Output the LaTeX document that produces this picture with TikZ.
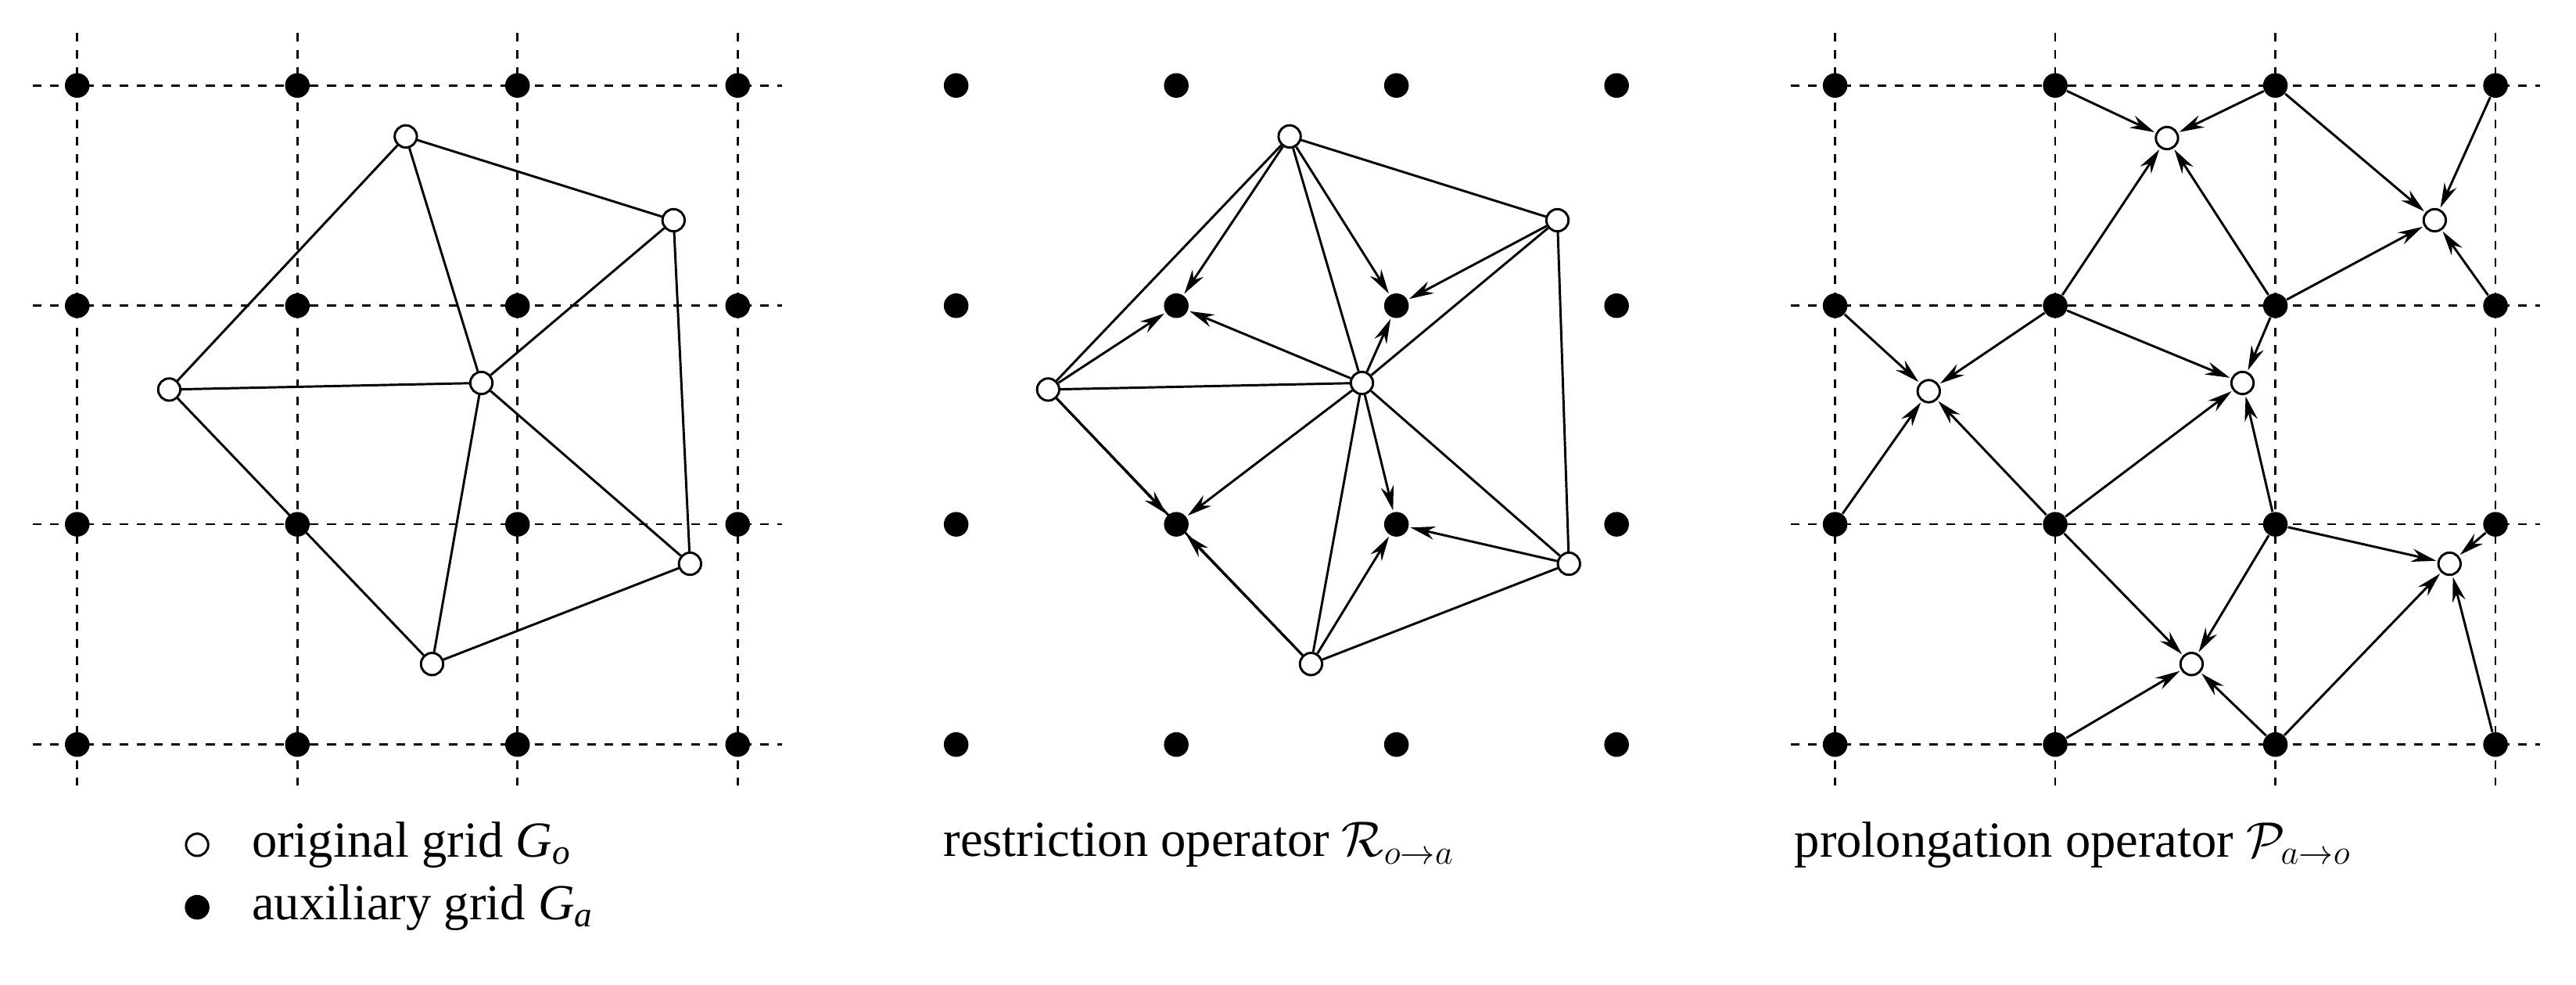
\documentclass[tikz,border=0pt]{standalone}
\usepackage{fontspec}
\setmainfont{Liberation Serif}
\usetikzlibrary{arrows.meta}
\begin{document}
\begin{tikzpicture}[x=0.02cm,y=-0.02cm,
  aux/.style={circle,fill=black,inner sep=0pt,minimum size=0.3cm},
  orig/.style={circle,draw=black,fill=white,line width=0.8pt,inner sep=0pt,minimum size=0.27cm},
  gridline/.style={dashed,line width=0.7pt},
  mesh/.style={line width=0.8pt},
  arr/.style={line width=0.8pt,-{Stealth[length=0.3cm,width=0.16cm]},shorten >=0.5pt},
  lbl/.style={font=\fontsize{17.5}{20}\selectfont,inner sep=0pt}]
\useasboundingbox (0,0) rectangle (1568,599);
% ---------- panel 1
\foreach \x in {47,181,315,449} \draw[gridline] (\x,20) -- (\x,478);
\foreach \y in {52,186,319,453} \draw[gridline] (20,\y) -- (476,\y);
\foreach \x/\i in {47/1,181/2,315/3,449/4}
  \foreach \y/\j in {52/1,186/2,319/3,453/4} \node[aux] (a\i\j) at (\x,\y) {};
\node[orig] (o1) at (247,83) {};
\node[orig] (o2) at (410,134) {};
\node[orig] (o3) at (103,237) {};
\node[orig] (o4) at (293,233) {};
\node[orig] (o5) at (420,343) {};
\node[orig] (o6) at (263,404) {};
\foreach \a/\b in {1/2,1/3,1/4,2/4,2/5,3/4,3/6,4/6,4/5,6/5} \draw[mesh] (o\a) -- (o\b);
% ---------- panel 2
\foreach \x/\i in {582/1,716/2,850/3,984/4}
  \foreach \y/\j in {52/1,186/2,319/3,453/4} \node[aux] (b\i\j) at (\x,\y) {};
\node[orig] (p1) at (785,83) {};
\node[orig] (p2) at (948,134) {};
\node[orig] (p3) at (638,237) {};
\node[orig] (p4) at (829,233) {};
\node[orig] (p5) at (955,343) {};
\node[orig] (p6) at (798,404) {};
\foreach \a/\b in {1/2,1/3,1/4,2/4,2/5,3/4,3/6,4/6,4/5,6/5} \draw[mesh] (p\a) -- (p\b);
\foreach \s/\t in {1/22,3/22,4/22,1/32,2/32,4/32,3/23,4/23,6/23,4/33,5/33,6/33}
  \draw[arr] (p\s) -- (b\t);
% ---------- panel 3
\foreach \x in {1117,1251,1385,1519} \draw[gridline] (\x,20) -- (\x,478);
\foreach \y in {52,186,319,453} \draw[gridline] (1090,\y) -- (1546,\y);
\foreach \x/\i in {1117/1,1251/2,1385/3,1519/4}
  \foreach \y/\j in {52/1,186/2,319/3,453/4} \node[aux] (c\i\j) at (\x,\y) {};
\node[orig] (q1) at (1319,84) {};
\node[orig] (q2) at (1482,134) {};
\node[orig] (q3) at (1174,238) {};
\node[orig] (q4) at (1365,233) {};
\node[orig] (q5) at (1491,343) {};
\node[orig] (q6) at (1334,404) {};
\foreach \s/\t in {21/1,31/1,22/1,32/1, 41/2,31/2,32/2,42/2, 12/3,22/3,13/3,23/3,
  32/4,22/4,23/4,33/4, 33/5,43/5,34/5,44/5, 23/6,33/6,24/6,34/6}
  \draw[arr] (c\s) -- (q\t);
% ---------- labels
\node[orig] (lo) at (120,514) {};
\node[aux] (la) at (120,552) {};
\node[lbl,anchor=west] (t1) at (153,514) {original grid \textit{G}\textsubscript{\textit{o}}};
\node[lbl,anchor=west] (t2) at (153,552) {auxiliary grid \textit{G}\textsubscript{\textit{a}}};
\node[lbl,anchor=west] (t3) at (574,514) {restriction operator $\mathcal{R}_{o\rightarrow a}$};
\node[lbl,anchor=west] (t4) at (1092,514) {prolongation operator $\mathcal{P}_{a\rightarrow o}$};
\end{tikzpicture}
\end{document}
